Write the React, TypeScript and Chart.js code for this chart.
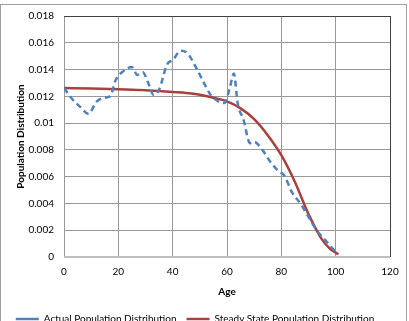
import React, { useEffect, useRef } from "react";
import { Chart, registerables } from "chart.js";

Chart.register(...registerables);

const actualAges = [0, 3, 6, 9, 12, 15, 17, 19, 22, 25, 27, 29, 31, 33, 35, 38, 40, 43, 45, 49, 51, 54, 57, 59, 61, 62.5, 64, 66, 68.5, 70, 73, 76, 79, 81, 84, 87, 90, 93, 96, 99, 101];
const actualValues = [0.01262, 0.0118, 0.0112, 0.0107, 0.0116, 0.0119, 0.012, 0.0132, 0.0139, 0.0142, 0.0136, 0.0138, 0.013, 0.0121, 0.0125, 0.0144, 0.0147, 0.0154, 0.0153, 0.014, 0.0132, 0.0121, 0.0116, 0.0115, 0.0126, 0.0137, 0.0114, 0.0103, 0.0085, 0.0086, 0.008, 0.0071, 0.0064, 0.0061, 0.0048, 0.004, 0.003, 0.002, 0.0013, 0.0006, 0.0002];

const steadyAges = [0, 10, 20, 30, 40, 45, 50, 55, 60, 65, 70, 75, 80, 85, 90, 95, 98, 101];
const steadyValues = [0.01262, 0.01258, 0.01252, 0.01245, 0.01232, 0.01225, 0.01212, 0.0119, 0.01162, 0.0111, 0.0103, 0.0091, 0.0076, 0.0056, 0.0032, 0.0013, 0.0006, 0.0002];

const seriesNames = ["Actual Population Distribution", "Steady State Population Distribution"];
const xTitle = "Age";
const yTitle = "Population Distribution";
const xMax = 120;
const xStep = 20;
const yMax = 0.018;
const yStep = 0.002;

const FONT = "Lato, 'Liberation Sans', sans-serif";

export default function App() {
  const ref = useRef<HTMLCanvasElement | null>(null);
  useEffect(() => {
    document.body.style.margin = "0";
    const canvas = ref.current!;
    const framePlugin = {
      id: "frame",
      beforeDraw(chart: any) {
        const c = chart.ctx;
        c.save();
        c.fillStyle = "#ffffff";
        c.fillRect(0, 0, chart.width, chart.height);
        c.strokeStyle = "#a0a0a0";
        c.lineWidth = 1;
        c.strokeRect(0.5, 4.5, 406, 400);
        c.restore();
      },
    };
    const chart = new Chart(canvas, {
      type: "line",
      data: {
        datasets: [
          {
            label: seriesNames[0],
            data: actualAges.map((a, i) => ({ x: a, y: actualValues[i] })),
            borderColor: "#4F81BD",
            backgroundColor: "#4F81BD",
            borderWidth: 2.5,
            borderDash: [6, 4],
            pointRadius: 0,
            cubicInterpolationMode: "monotone",
            fill: false,
          },
          {
            label: seriesNames[1],
            data: steadyAges.map((a, i) => ({ x: a, y: steadyValues[i] })),
            borderColor: "#A9403D",
            backgroundColor: "#A9403D",
            borderWidth: 2.5,
            pointRadius: 0,
            cubicInterpolationMode: "monotone",
            fill: false,
          },
        ],
      },
      options: {
        animation: false,
        responsive: false,
        devicePixelRatio: 1,
        layout: { padding: { left: 0, top: 15, right: 19, bottom: 0 } },
        plugins: {
          tooltip: { enabled: false },
          legend: {
            position: "bottom",
            labels: {
              usePointStyle: true,
              pointStyle: "line",
              pointStyleWidth: 23,
              boxHeight: 10,
              padding: 10,
              color: "#000000",
              font: { family: FONT, size: 10 },
            },
          },
        },
        scales: {
          x: {
            type: "linear",
            min: 0,
            max: xMax,
            border: { display: false },
            grid: {
              drawTicks: false,
              color: (ctx: any) => (ctx.tick && ctx.tick.value === xMax ? "#404040" : "#999999"),
              lineWidth: 1,
            },
            ticks: { stepSize: xStep, padding: 9, color: "#000000", font: { family: FONT, size: 10 } },
            title: { display: true, text: xTitle, color: "#000000", padding: { top: 6, bottom: 6 }, font: { family: FONT, size: 10, weight: "bold" } },
            afterFit: (s: any) => { s.height = 47; },
          },
          y: {
            type: "linear",
            min: 0,
            max: yMax,
            border: { display: false },
            grid: {
              drawTicks: false,
              color: (ctx: any) => {
                const v = ctx.tick ? ctx.tick.value : -1;
                if (Math.abs(v - yMax) < 1e-9) return "#404040";
                if (v === 0) return "#bfbfbf";
                return "#999999";
              },
              lineWidth: (ctx: any) => (ctx.tick && ctx.tick.value === 0 ? 2 : 1),
            },
            ticks: {
              stepSize: yStep,
              padding: 10,
              color: "#000000",
              font: { family: FONT, size: 10 },
              callback: (v: any) => String(+Number(v).toFixed(3)),
            },
            title: { display: true, text: yTitle, color: "#000000", padding: { top: 15, bottom: 11 }, font: { family: FONT, size: 10, weight: "bold" } },
            afterFit: (s: any) => { s.width = 64; },
          },
        },
      },
      plugins: [framePlugin],
    } as any);
    return () => chart.destroy();
  }, []);
  return (
    <div style={{ width: 409, height: 321, overflow: "hidden", position: "relative" }}>
      <canvas ref={ref} width={409} height={334} style={{ display: "block" }} />
    </div>
  );
}
